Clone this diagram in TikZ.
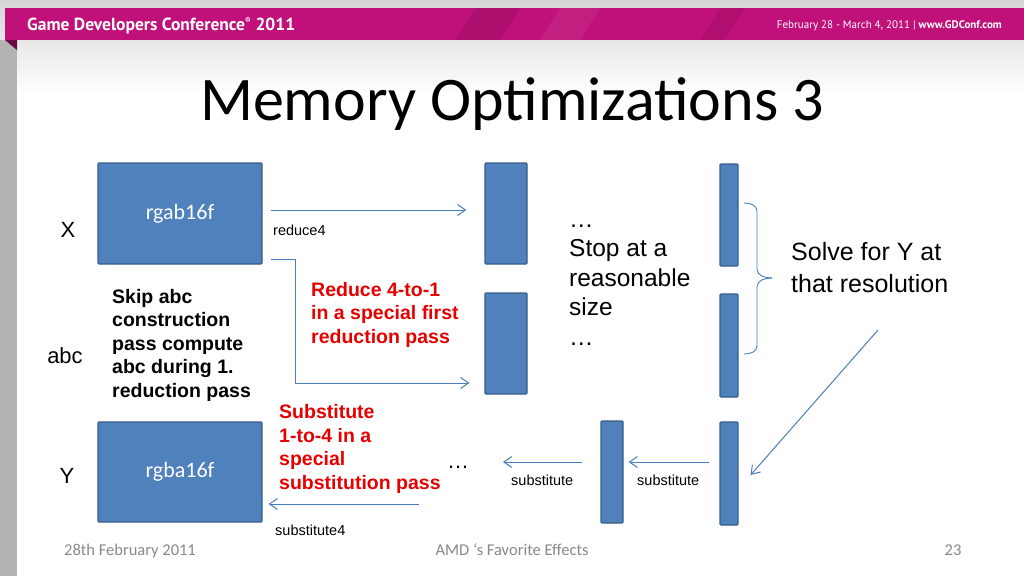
\documentclass[tikz,border=0pt]{standalone}
\usepackage{fontspec}
\setmainfont{Liberation Sans}
\newfontfamily\calibri{Carlito}
\newfontfamily\gdc{PT Sans}
\usetikzlibrary{arrows.meta,calc}
\definecolor{gdcmag}{RGB}{192,17,122}
\definecolor{boxblue}{RGB}{79,129,189}
\definecolor{boxedge}{RGB}{56,93,138}
\definecolor{arrblue}{RGB}{74,126,187}
\definecolor{footgray}{RGB}{137,137,137}
\definecolor{stripgray}{RGB}{180,180,180}
\definecolor{txtred}{RGB}{230,0,0}
\begin{document}
\begin{tikzpicture}[x=1pt,y=-1pt,
  box/.style={draw=boxedge, fill=boxblue, line width=1.2pt, rounded corners=1pt, inner sep=0pt},
  arr/.style={draw=arrblue, line width=1pt, -{Straight Barb[length=8pt,width=11pt]}},
  brc/.style={draw=arrblue, line width=0.9pt},
  lbl/.style={font=\fontsize{22}{26}\selectfont, inner sep=0pt},
  small/.style={font=\fontsize{14.5}{17}\selectfont, inner sep=0pt, anchor=base west},
  boldblk/.style={font=\bfseries\fontsize{19.5}{23.4}\selectfont, align=left, inner sep=0pt, anchor=base west},
  bigblk/.style={font=\fontsize{24.5}{29.5}\selectfont, align=left, inner sep=0pt, anchor=base west},
  foot/.style={font=\calibri\fontsize{16.5}{19}\selectfont, text=footgray, inner sep=0pt, anchor=base}]
\useasboundingbox (0,0) rectangle (1024,576);
% background
\fill[white] (0,0) rectangle (1024,576);
\shade[top color=black!16, bottom color=white] (0,0) rectangle (1024,95);
\fill[stripgray] (0,40) rectangle (17,576);
% header band
\fill[gdcmag] (5,8) rectangle (1024,40);
\fill[black, opacity=0.10] (455,40) -- (475,8) -- (520,8) -- (500,40) -- cycle;
\fill[white, opacity=0.06] (540,40) -- (560,8) -- (600,8) -- (580,40) -- cycle;
\fill[black, opacity=0.08] (700,40) -- (720,8) -- (745,8) -- (725,40) -- cycle;
\fill[gdcmag!55!black] (5,40) -- (17,40) -- (17,50) -- cycle;
\node[anchor=base west, text=white, inner sep=0pt, font=\gdc\bfseries\fontsize{17.5}{20}\selectfont] (hdrL) at (27,30) {Game Developers Conference\textsuperscript{\fontsize{8}{9}\selectfont ®} 2011};
\node[anchor=base east, text=white, inner sep=0pt, font=\gdc\fontsize{11}{13}\selectfont] (hdrR) at (1002,28) {February 28 - March 4, 2011 | \textbf{www.GDConf.com}};
% title
\node[anchor=base, inner sep=0pt, font=\calibri\fontsize{62}{70}\selectfont] (title) at (512,120) {Memory Optimizations 3};
% row labels
\node[lbl, anchor=base] (lX) at (68,237) {X};
\node[lbl, anchor=base] (lABC) at (65,363) {abc};
\node[lbl, anchor=base] (lY) at (67,483) {Y};
% big boxes
\node[box, minimum width=164pt, minimum height=101pt, text=white, font=\calibri\fontsize{22}{26}\selectfont] (bX) at (180,213.5) {rgab16f};
\node[box, minimum width=164pt, minimum height=100pt, text=white, font=\calibri\fontsize{22}{26}\selectfont] (bY) at (180,472) {rgba16f};
% bars
\node[box, minimum width=42pt, minimum height=101pt] (b1) at (506,213.5) {};
\node[box, minimum width=42pt, minimum height=101pt] (b2) at (506,343.5) {};
\node[box, minimum width=18pt, minimum height=102pt] (b3) at (729,215) {};
\node[box, minimum width=18pt, minimum height=103pt] (b4) at (729,345.5) {};
\node[box, minimum width=18pt, minimum height=103pt] (b5) at (729,473.5) {};
\node[box, minimum width=22pt, minimum height=102pt] (bM) at (612,472) {};
% texts (base anchor = baseline of the last line)
\node[small] (tReduce) at (273,235) {reduce4};
\node[small] (tSub4) at (275,535) {substitute4};
\node[small] (tSubA) at (511,485) {substitute};
\node[small] (tSubB) at (637,485) {substitute};
\node[boldblk] (tSkip) at (112,397) {Skip abc\\construction\\pass compute\\abc during 1.\\reduction pass};
\node[boldblk, text=txtred] (tRed) at (311,343) {Reduce 4-to-1\\in a special first\\reduction pass};
\node[boldblk, text=txtred] (tSubst) at (279,489) {Substitute\\1-to-4 in a\\special\\substitution pass};
\node[bigblk] (tStop) at (569,345) {…\\Stop at a\\reasonable\\size\\…};
\node[bigblk, font=\fontsize{25}{32}\selectfont] (tSolve) at (791,292) {Solve for Y at\\that resolution};
\node[lbl, anchor=base west] (tDots) at (447,468) {…};
% connectors
\draw[arr] ([shift={(8pt,3.5pt)}]bX.east) -- ([shift={(-18pt,3.5pt)}]b1.west);
\draw[arr] ([shift={(8pt,5pt)}]bX.south east) -- ++(25,0) |- ([shift={(-15pt,-39.5pt)}]b2.west);
\coordinate (s4) at (419,504);
\draw[arr] (s4) -- ([shift={(6pt,-32pt)}]bY.east);
\coordinate (sEnd) at (503,462);
\draw[arr] ([shift={(-18pt,10pt)}]bM.west) -- (sEnd);
\draw[arr] ([shift={(-10pt,11.5pt)}]b5.west) -- ([shift={(5pt,10pt)}]bM.east);
\coordinate (dStart) at (878,330);
\draw[arr] (dStart) -- ([shift={(12pt,-1.5pt)}]b5.east);
% brace
\coordinate (brTop) at (744,203);
\coordinate (brTip) at (772,278);
\coordinate (brBot) at (744,354);
\draw[brc] (brTop) to[out=0,in=90] (757,211) -- (757,269) to[out=-90,in=180] (brTip);
\draw[brc] (brTip) to[out=180,in=90] (757,287) -- (757,346) to[out=-90,in=0] (brBot);
% footer
\node[foot] (fDate) at (130,555) {28th February 2011};
\node[foot] (fTitle) at (512,555) {AMD ‘s Favorite Effects};
\node[foot] (fNum) at (953,555) {23};
\end{tikzpicture}
\end{document}
